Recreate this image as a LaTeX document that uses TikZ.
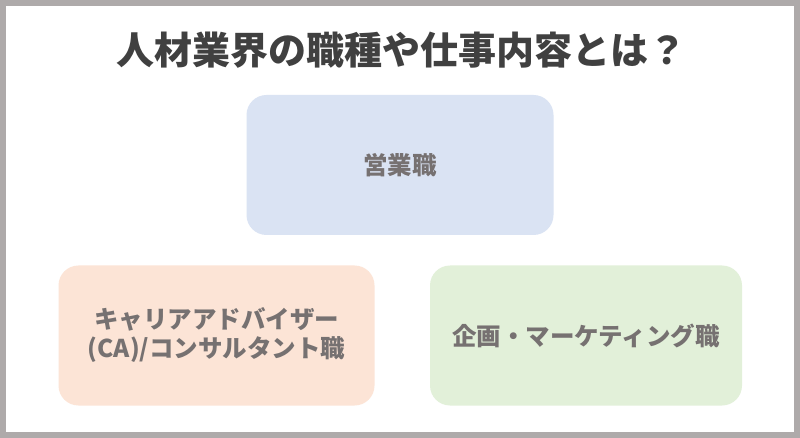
\documentclass[tikz,border=0pt]{standalone}
\usepackage{fontspec}
\setmainfont{Noto Sans CJK JP}
\definecolor{framegrey}{HTML}{AEAAAA}
\definecolor{titlegrey}{HTML}{404040}
\definecolor{textgrey}{HTML}{767171}
\definecolor{boxblue}{HTML}{DAE3F3}
\definecolor{boxorange}{HTML}{FCE4D6}
\definecolor{boxgreen}{HTML}{E2F0D9}
\tikzset{
  jobbox/.style={rounded corners=20pt, draw=none, minimum width=#1, minimum height=140pt,
    text=textgrey, align=center, font=\bfseries\fontsize{24.5}{29}\selectfont, inner sep=0pt},
  jobbox/.default=307pt
}
\begin{document}
\begin{tikzpicture}[x=1pt,y=-1pt]
\useasboundingbox (0,0) rectangle (800,438);
\fill[white] (0,0) rectangle (800,438);
\draw[framegrey, line width=6pt] (3,3) rectangle (797,435);
\node (title) at (401,50) [text=titlegrey, font=\bfseries\fontsize{38}{40}\selectfont, inner sep=0pt] {人材業界の職種や仕事内容とは？};
\node (sales) at (400,165) [jobbox=307pt, fill=boxblue] {営業職};
\node (ca) at (216.5,335.5) [jobbox=316pt, fill=boxorange] {キャリアアドバイザー\\(CA)/コンサルタント職};
\node (plan) at (586,335.5) [jobbox=312pt, fill=boxgreen] {企画・マーケティング職};
\end{tikzpicture}
\end{document}
